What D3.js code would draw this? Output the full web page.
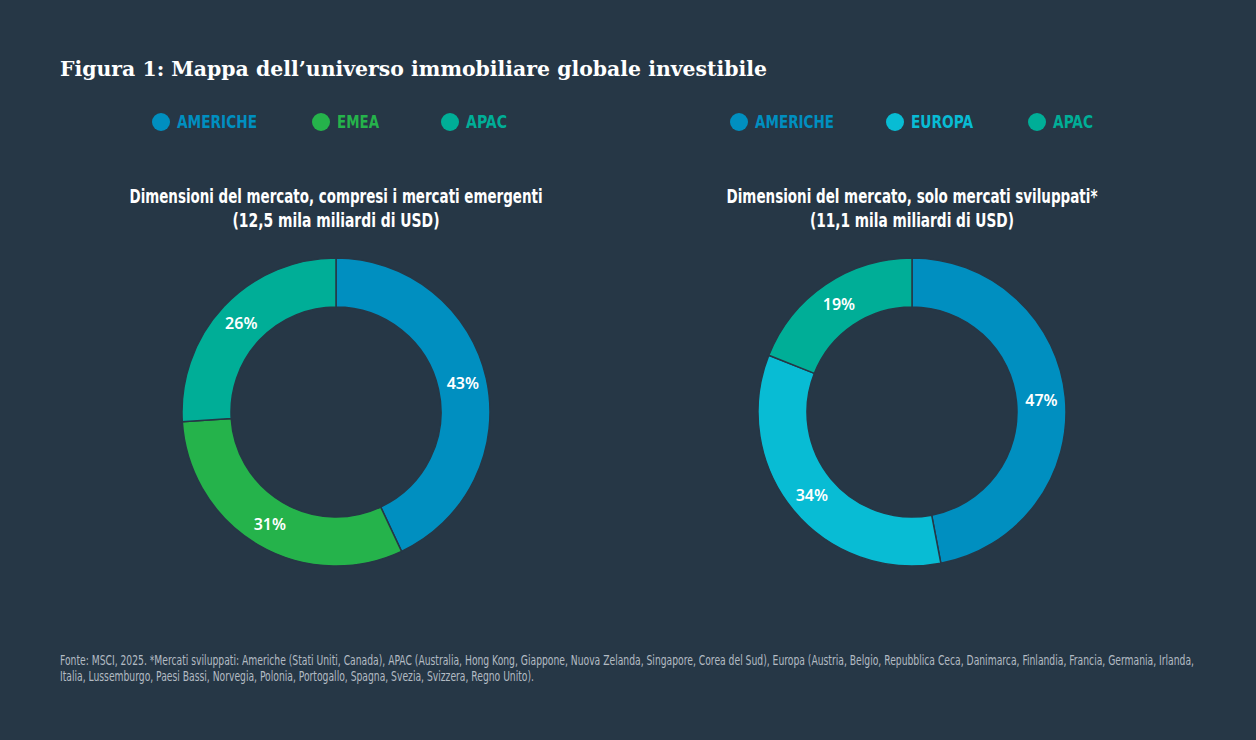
<!DOCTYPE html>
<html>
<head>
<meta charset="utf-8">
<script src="https://cdn.jsdelivr.net/npm/d3@7"></script>
<style>
  body { margin: 0; background: #263746; }
</style>
</head>
<body>
<div id="content"></div>
<script>
// ******* DATA *******
const leftCategories = ["AMERICHE", "EMEA", "APAC"];
const leftValues = [43, 31, 26];
const leftColors = ["#008fc0", "#25b34b", "#00ae97"];

const rightCategories = ["AMERICHE", "EUROPA", "APAC"];
const rightValues = [47, 34, 19];
const rightColors = ["#008fc0", "#08bcd4", "#00ae97"];

const titleText = "Figura 1: Mappa dell\u2019universo immobiliare globale investibile";
const leftSubtitle = ["Dimensioni del mercato, compresi i mercati emergenti", "(12,5 mila miliardi di USD)"];
const rightSubtitle = ["Dimensioni del mercato, solo mercati sviluppati*", "(11,1 mila miliardi di USD)"];
const footnote = [
    "Fonte: MSCI, 2025. *Mercati sviluppati: Americhe (Stati Uniti, Canada), APAC (Australia, Hong Kong, Giappone, Nuova Zelanda, Singapore, Corea del Sud), Europa (Austria, Belgio, Repubblica Ceca, Danimarca, Finlandia, Francia, Germania, Irlanda,",
    "Italia, Lussemburgo, Paesi Bassi, Norvegia, Polonia, Portogallo, Spagna, Svezia, Svizzera, Regno Unito)."
];

// ******* SETUP *******
const width = 1256, height = 740;
const bg = "#263746";
const narrow = "'DejaVu Sans', sans-serif";

const svg = d3.select("#content").append("svg")
    .attr("width", width)
    .attr("height", height)
    .style("display", "block");

svg.append("rect").attr("width", width).attr("height", height).attr("fill", bg);

// squeeze a condensed-looking text to a set width
function squeeze(sel, w) {
    sel.attr("textLength", w).attr("lengthAdjust", "spacingAndGlyphs");
}

// title
svg.append("text")
    .attr("x", 60).attr("y", 76)
    .attr("fill", "#ffffff")
    .style("font-family", "'DejaVu Serif', 'Liberation Serif', serif")
    .style("font-weight", "bold")
    .style("font-size", "21px")
    .text(titleText)
    .call(squeeze, 707);

// draw one donut with its legend and subtitle
function drawDonut(cx, legendX, legendW, subW, categories, values, colors, subtitle) {
    // legend
    const legend = svg.append("g").attr("transform", `translate(0,122)`);
    const item = legend.selectAll("g").data(categories).join("g")
        .attr("transform", (d, i) => `translate(${legendX[i]},0)`);
    item.append("circle").attr("r", 9).attr("fill", (d, i) => colors[i]);
    item.append("text")
        .attr("x", 16).attr("dy", "0.36em")
        .attr("fill", (d, i) => colors[i])
        .style("font-family", narrow)
        .style("font-stretch", "condensed")
        .style("font-weight", "bold")
        .style("font-size", "17px")
        .text(d => d)
        .attr("textLength", (d, i) => legendW[i])
        .attr("lengthAdjust", "spacingAndGlyphs");

    // subtitle
    svg.append("g")
        .selectAll("text").data(subtitle).join("text")
        .attr("text-anchor", "middle")
        .attr("fill", "#ffffff")
        .style("font-family", narrow)
        .style("font-stretch", "condensed")
        .style("font-weight", "bold")
        .style("font-size", "19px")
        .attr("x", cx)
        .attr("y", (d, i) => 203 + i * 24)
        .text(d => d)
        .attr("textLength", (d, i) => subW[i])
        .attr("lengthAdjust", "spacingAndGlyphs");

    // donut
    const pie = d3.pie().sort(null).value(d => d);
    const arc = d3.arc().innerRadius(105).outerRadius(154);
    const labelArc = d3.arc().innerRadius(130).outerRadius(130);
    const g = svg.append("g").attr("transform", `translate(${cx},412)`);
    const arcs = pie(values);

    g.selectAll("path").data(arcs).join("path")
        .attr("d", arc)
        .attr("fill", (d, i) => colors[i])
        .attr("stroke", bg)
        .attr("stroke-width", 1.5);

    g.selectAll("text").data(arcs).join("text")
        .attr("transform", d => {
            const c = labelArc.centroid(d);
            return `translate(${c[0]},${c[1]})`;
        })
        .attr("text-anchor", "middle")
        .attr("dy", "0.36em")
        .attr("fill", "#ffffff")
        .style("font-family", "'Noto Sans', sans-serif")
        .style("font-weight", "600")
        .style("font-size", "16px")
        .text(d => d.data + "%");
}

drawDonut(336, [161, 321, 450], [80, 42, 41], [413, 207],
    leftCategories, leftValues, leftColors, leftSubtitle);
drawDonut(912, [739, 895, 1037], [79, 62, 40], [371, 204],
    rightCategories, rightValues, rightColors, rightSubtitle);

// footnote
const footW = [1134, 474];
svg.append("g")
    .selectAll("text").data(footnote).join("text")
    .attr("fill", "#b3bbc3")
    .style("font-family", narrow)
    .style("font-stretch", "condensed")
    .style("font-size", "14px")
    .attr("x", 60)
    .attr("y", (d, i) => 665 + i * 16)
    .text(d => d)
    .attr("textLength", (d, i) => footW[i])
    .attr("lengthAdjust", "spacingAndGlyphs");
</script>
</body>
</html>
